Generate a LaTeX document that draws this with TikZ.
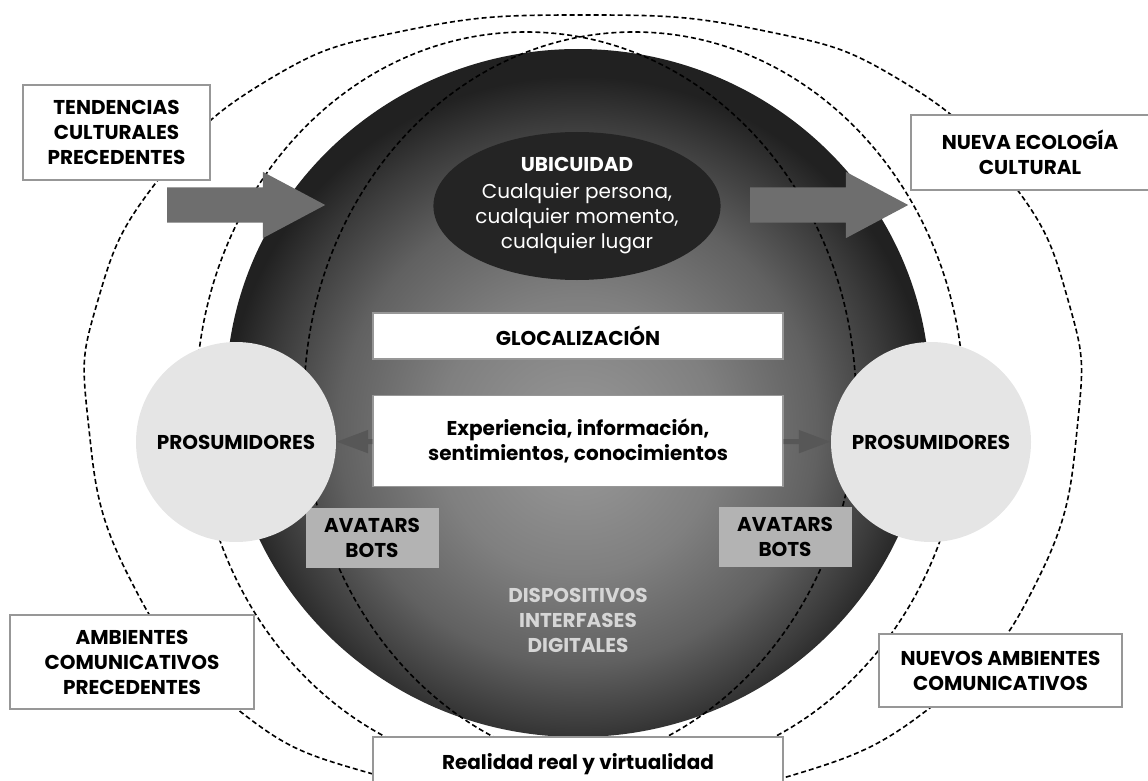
\documentclass[tikz,border=0pt]{standalone}
\usepackage{fontspec}
\setmainfont{Poppins}
\usepackage{tikz}
\usetikzlibrary{shapes,arrows.meta,positioning}

\definecolor{arrowgray}{HTML}{6E6E6E}
\definecolor{linkgray}{HTML}{575757}
\definecolor{framegray}{HTML}{979797}
\definecolor{prosgray}{HTML}{E5E5E5}
\definecolor{avatargray}{HTML}{B3B3B3}
\definecolor{ubidark}{HTML}{242424}
\definecolor{devicegray}{HTML}{D6D6D6}

\newcommand{\labelsize}{\fontsize{20}{25}\selectfont}

\pgfdeclareradialshading{sphereshade}{\pgfpoint{0bp}{-4bp}}{color(0bp)=(black!40); color(10bp)=(black!50); color(17bp)=(black!62); color(22bp)=(black!77); color(25bp)=(black!87); color(50bp)=(black!87)}

\tikzstyle{textbox} = [rectangle, draw=framegray, line width=1.3pt, fill=white, align=center, font=\labelsize\bfseries, inner sep=0pt]
\tikzstyle{avatar} = [rectangle, fill=avatargray, minimum width=133pt, minimum height=60pt, align=center, font=\labelsize\bfseries]
\tikzstyle{prosumer} = [circle, fill=prosgray, minimum size=200pt, inner sep=0pt, font=\labelsize\bfseries]
\tikzstyle{bigarrow} = [single arrow, fill=arrowgray, minimum height=158pt, minimum width=66pt, single arrow head extend=15.5pt, single arrow tip angle=56, inner xsep=0pt, inner ysep=17.5pt, anchor=tail]
\tikzstyle{orbit} = [draw, line width=1.6pt, dash pattern=on 5pt off 3pt]
\tikzstyle{line} = [draw=linkgray, line width=5pt, -{Triangle[length=32pt, width=22pt]}]

\begin{document}
\begin{tikzpicture}[x=1pt, y=-1pt, node distance=105pt, auto]
    \useasboundingbox (0,0) rectangle (1148,781);
    \path [orbit] plot [smooth cycle, tension=0.8] coordinates {(584,15) (760,30) (900,80) (1010,180) (1068,300) (1078,420) (1040,575) (940,700) (783,778) (584,805) (380,776) (232,705) (128,575) (88,420) (98,300) (158,180) (268,80) (408,30)};
    \path [shading=sphereshade] (578,393) ellipse [x radius=352pt, y radius=344pt];
    \path [orbit] (526,402) ellipse [x radius=330pt, y radius=370pt];
    \path [orbit] (634,402) ellipse [x radius=330pt, y radius=370pt];
    \node [ellipse, fill=ubidark, minimum width=276pt, minimum height=148pt, inner sep=0pt, text=white, align=center, font=\labelsize] (ubicuidad) at (577,206) {\textbf{UBICUIDAD}\\[2pt] Cualquier persona,\\ cualquier momento,\\ cualquier lugar};
    \node [bigarrow] (inArrow) at (167,205) {};
    \node [bigarrow] (outArrow) at (750,205) {};
    \node [textbox, minimum width=410pt, minimum height=46pt] (glocal) at (578,336) {GLOCALIZACIÓN};
    \node [textbox, minimum width=410pt, minimum height=91pt, below of=glocal] (experience) {Experiencia, información,\\ sentimientos, conocimientos};
    \node [avatar] (avatarLeft) at (372,538) {AVATARS\\BOTS};
    \node [avatar] (avatarRight) at (785,537) {AVATARS\\BOTS};
    \node [prosumer] (prosLeft) at (236,442) {PROSUMIDORES};
    \node [prosumer] (prosRight) at (931,442) {PROSUMIDORES};
    \node [align=center, text=devicegray, font=\labelsize\bfseries] (devices) at (578,620) {DISPOSITIVOS\\INTERFASES\\DIGITALES};
    \node [textbox, minimum width=187pt, minimum height=95pt] (tendencias) at (116.5,132.5) {TENDENCIAS\\CULTURALES\\PRECEDENTES};
    \node [textbox, minimum width=238pt, minimum height=75pt] (ecologia) at (1030,152.5) {NUEVA ECOLOGÍA\\CULTURAL};
    \node [textbox, minimum width=244pt, minimum height=94pt] (ambientes) at (132,662) {AMBIENTES\\COMUNICATIVOS\\PRECEDENTES};
    \node [textbox, minimum width=243pt, minimum height=73pt] (nuevos) at (1000.5,670.5) {NUEVOS AMBIENTES\\COMUNICATIVOS};
    \node [textbox, minimum width=410pt, minimum height=54pt] (realidad) at (578,764) {Realidad real y virtualidad};
    \path [line] (experience) -- (prosLeft);
    \path [line] (experience) -- (prosRight);
\end{tikzpicture}
\end{document}
